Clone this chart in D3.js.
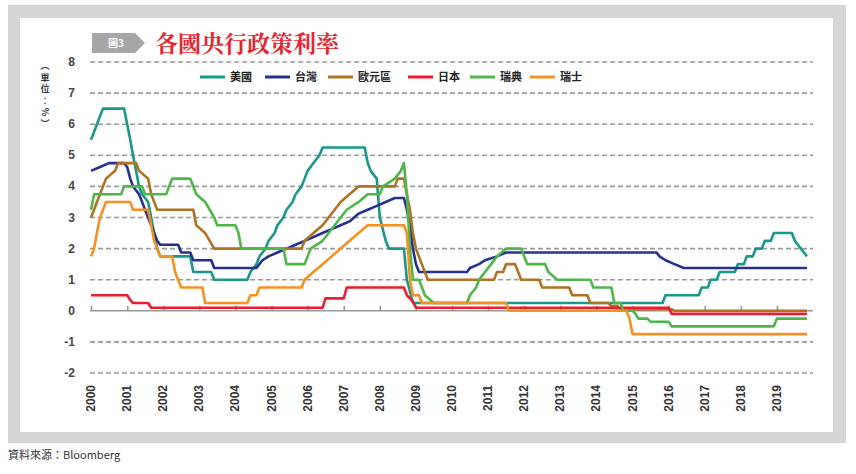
<!DOCTYPE html>
<html>
<head>
<meta charset="utf-8">
<script src="https://cdn.jsdelivr.net/npm/d3@7"></script>
<style>
  body { margin: 0; background: #fff; }
  svg { display: block; font-family: "Noto Sans CJK TC", "Liberation Sans", sans-serif; }
</style>
</head>
<body>
<div id="chart"></div>
<script>
// size of the page and plot area
var W = 856, H = 474;
var margin = {top: 62, right: 43, bottom: 103, left: 91},
    width = W - margin.left - margin.right,
    height = H - margin.top - margin.bottom;

// data: [month, rate] change points
var usRate = [
  ["2000-01",5.5],["2000-02",5.75],["2000-03",6.0],["2000-05",6.5],["2000-12",6.5],
  ["2001-01",6.0],["2001-02",5.5],["2001-03",5.0],["2001-04",4.5],["2001-05",4.0],
  ["2001-06",3.75],["2001-08",3.5],["2001-09",3.0],["2001-10",2.5],["2001-11",2.0],
  ["2001-12",1.75],["2002-10",1.75],["2002-11",1.25],["2003-05",1.25],["2003-06",1.0],
  ["2004-05",1.0],["2004-06",1.25],["2004-08",1.5],["2004-09",1.75],["2004-11",2.0],
  ["2004-12",2.25],["2005-02",2.5],["2005-03",2.75],["2005-05",3.0],["2005-06",3.25],
  ["2005-08",3.5],["2005-09",3.75],["2005-11",4.0],["2005-12",4.25],["2006-01",4.5],
  ["2006-03",4.75],["2006-05",5.0],["2006-06",5.25],["2007-08",5.25],["2007-09",4.75],
  ["2007-10",4.5],["2007-12",4.25],["2008-01",3.0],["2008-03",2.25],["2008-04",2.0],
  ["2008-09",2.0],["2008-10",1.0],["2008-12",0.25],["2015-11",0.25],["2015-12",0.5],
  ["2016-11",0.5],["2016-12",0.75],["2017-02",0.75],["2017-03",1.0],["2017-05",1.0],
  ["2017-06",1.25],["2017-11",1.25],["2017-12",1.5],["2018-02",1.5],["2018-03",1.75],
  ["2018-05",1.75],["2018-06",2.0],["2018-08",2.0],["2018-09",2.25],["2018-11",2.25],
  ["2018-12",2.5],["2019-06",2.5],["2019-07",2.25],["2019-09",2.0],["2019-11",1.75]
];
var twRate = [
  ["2000-01",4.5],["2000-04",4.625],["2000-07",4.75],["2000-12",4.75],["2001-01",4.625],
  ["2001-02",4.25],["2001-03",4.0],["2001-05",3.75],["2001-06",3.5],["2001-07",3.25],
  ["2001-09",2.75],["2001-10",2.5],["2001-11",2.25],["2001-12",2.125],["2002-06",2.125],
  ["2002-07",1.875],["2002-10",1.875],["2002-11",1.625],["2003-05",1.625],["2003-06",1.375],
  ["2004-08",1.375],["2004-10",1.625],["2004-12",1.75],["2005-03",1.875],["2005-06",2.0],
  ["2005-09",2.125],["2005-12",2.25],["2006-03",2.375],["2006-06",2.5],["2006-09",2.625],
  ["2006-12",2.75],["2007-03",2.875],["2007-06",3.125],["2007-09",3.25],["2007-12",3.375],
  ["2008-03",3.5],["2008-06",3.625],["2008-09",3.625],["2008-10",3.25],["2008-11",2.75],
  ["2008-12",2.0],["2009-01",1.5],["2009-02",1.25],["2010-06",1.25],["2010-07",1.375],
  ["2010-10",1.5],["2010-12",1.625],["2011-04",1.75],["2011-07",1.875],["2015-09",1.875],
  ["2015-10",1.75],["2015-12",1.625],["2016-03",1.5],["2016-06",1.375],["2019-11",1.375]
];
var euRate = [
  ["2000-01",3.0],["2000-02",3.25],["2000-03",3.5],["2000-04",3.75],["2000-06",4.25],
  ["2000-09",4.5],["2000-10",4.75],["2001-04",4.75],["2001-05",4.5],["2001-08",4.25],
  ["2001-09",3.75],["2001-11",3.25],["2002-11",3.25],["2002-12",2.75],["2003-03",2.5],
  ["2003-06",2.0],["2005-11",2.0],["2005-12",2.25],["2006-03",2.5],["2006-06",2.75],
  ["2006-08",3.0],["2006-10",3.25],["2006-12",3.5],["2007-03",3.75],["2007-06",4.0],
  ["2008-06",4.0],["2008-07",4.25],["2008-09",4.25],["2008-10",3.75],["2008-11",3.25],
  ["2008-12",2.5],["2009-01",2.0],["2009-03",1.5],["2009-04",1.25],["2009-05",1.0],
  ["2011-03",1.0],["2011-04",1.25],["2011-06",1.25],["2011-07",1.5],["2011-10",1.5],
  ["2011-11",1.25],["2011-12",1.0],["2012-06",1.0],["2012-07",0.75],["2013-04",0.75],
  ["2013-05",0.5],["2013-10",0.5],["2013-11",0.25],["2014-05",0.25],["2014-06",0.15],
  ["2014-08",0.15],["2014-09",0.05],["2016-02",0.05],["2016-03",0.0],["2019-11",0.0]
];
var jpRate = [
  ["2000-01",0.5],["2001-01",0.5],["2001-02",0.35],["2001-03",0.25],["2001-08",0.25],
  ["2001-09",0.1],["2006-06",0.1],["2006-07",0.4],["2007-01",0.4],["2007-02",0.75],
  ["2008-09",0.75],["2008-10",0.5],["2008-12",0.3],["2009-01",0.1],["2016-01",0.1],
  ["2016-02",-0.1],["2019-11",-0.1]
];
var seRate = [
  ["2000-01",3.25],["2000-02",3.75],["2000-11",3.75],["2000-12",4.0],["2001-06",4.0],
  ["2001-07",3.75],["2002-02",3.75],["2002-03",4.0],["2002-04",4.25],["2002-10",4.25],
  ["2002-11",4.0],["2002-12",3.75],["2003-03",3.5],["2003-06",3.0],["2003-07",2.75],
  ["2004-01",2.75],["2004-02",2.5],["2004-03",2.0],["2005-05",2.0],["2005-06",1.5],
  ["2005-12",1.5],["2006-01",1.75],["2006-02",2.0],["2006-06",2.25],["2006-08",2.5],
  ["2006-10",2.75],["2006-12",3.0],["2007-02",3.25],["2007-06",3.5],["2007-09",3.75],
  ["2008-01",3.75],["2008-02",4.0],["2008-06",4.25],["2008-08",4.5],["2008-09",4.75],
  ["2008-10",3.75],["2008-11",2.0],["2008-12",1.0],["2009-02",1.0],["2009-04",0.5],
  ["2009-07",0.25],["2010-06",0.25],["2010-07",0.5],["2010-09",0.75],["2010-10",1.0],
  ["2010-12",1.25],["2011-02",1.5],["2011-04",1.75],["2011-07",2.0],["2011-12",2.0],
  ["2012-01",1.75],["2012-02",1.5],["2012-08",1.5],["2012-09",1.25],["2012-12",1.0],
  ["2013-11",1.0],["2013-12",0.75],["2014-06",0.75],["2014-07",0.25],["2014-09",0.25],
  ["2014-10",0.0],["2015-01",0.0],["2015-02",-0.1],["2015-03",-0.25],["2015-06",-0.25],
  ["2015-07",-0.35],["2016-01",-0.35],["2016-02",-0.5],["2018-12",-0.5],["2019-01",-0.25],
  ["2019-11",-0.25]
];
var chRate = [
  ["2000-01",1.75],["2000-02",2.0],["2000-03",2.5],["2000-04",3.0],["2000-06",3.5],
  ["2001-02",3.5],["2001-03",3.25],["2001-08",3.25],["2001-09",2.75],["2001-10",2.25],
  ["2001-12",1.75],["2002-04",1.75],["2002-05",1.25],["2002-07",0.75],["2003-02",0.75],
  ["2003-03",0.25],["2004-05",0.25],["2004-06",0.5],["2004-08",0.5],["2004-09",0.75],
  ["2005-11",0.75],["2005-12",1.0],["2006-03",1.25],["2006-06",1.5],["2006-09",1.75],
  ["2006-12",2.0],["2007-03",2.25],["2007-06",2.5],["2007-09",2.75],["2008-09",2.75],
  ["2008-10",2.5],["2008-11",1.0],["2008-12",0.5],["2009-02",0.5],["2009-03",0.25],
  ["2011-07",0.25],["2011-08",0.0],["2014-11",0.0],["2014-12",-0.25],["2015-01",-0.75],
  ["2019-11",-0.75]
];

var seriesNames = ["美國", "台灣", "歐元區", "日本", "瑞典", "瑞士"];
var seriesData = [usRate, twRate, euRate, jpRate, seRate, chRate];
var colors = ["#17998a", "#28308f", "#b0731d", "#ec1c2e", "#4bb848", "#f7901e"];

var yearLabels = ["2000","2001","2002","2003","2004","2005","2006","2007","2008","2009",
                  "2010","2011","2012","2013","2014","2015","2016","2017","2018","2019"];
var yTicks = [8, 7, 6, 5, 4, 3, 2, 1, 0, -1, -2];
// unit label, one glyph per row (vertical forms for brackets and colon)
var unitChars = ["︵", "單", "位", "︰", "%", "︶"];

var parseMonth = d3.timeParse("%Y-%m");
var parseYear = d3.timeParse("%Y");

var svg = d3.select("#chart").append("svg")
    .attr("width", W)
    .attr("height", H);

// gray frame
svg.append("rect").attr("x", 8).attr("y", 5).attr("width", 838).attr("height", 438)
    .attr("fill", "#d6d6d6");
svg.append("rect").attr("x", 20).attr("y", 18).attr("width", 813).attr("height", 414)
    .attr("fill", "#fff");

// figure tag + title
svg.append("path")
    .attr("d", "M92,33 L135,33 L145,43 L135,53 L92,53 Z")
    .attr("fill", "#a6a6a6");
svg.append("text").attr("x", 116).attr("y", 47)
    .attr("text-anchor", "middle")
    .attr("fill", "#fff").attr("font-size", 10).attr("font-weight", "bold")
    .text("圖3");
svg.append("text").attr("x", 155).attr("y", 52)
    .attr("fill", "#e8242f").attr("font-size", 23).attr("font-weight", "bold")
    .attr("font-family", "'Noto Serif CJK TC', 'Noto Sans CJK TC', serif")
    .text("各國央行政策利率");

// unit label, vertical
svg.selectAll(".unit")
    .data(unitChars)
    .enter().append("text")
    .attr("class", "unit")
    .attr("x", 45)
    .attr("y", function(d, i) { return 69 + i * 11.5; })
    .attr("text-anchor", "middle")
    .attr("fill", "#333")
    .attr("font-size", 9)
    .attr("font-weight", "bold")
    .attr("transform", function(d, i) {
        return d === "%" ? "rotate(90,45," + (66 + i * 11.5) + ")" : null;
    })
    .text(function(d) { return d; });

// source
svg.append("text").attr("x", 8).attr("y", 459)
    .attr("fill", "#333").attr("font-size", 11)
    .text("資料來源：Bloomberg");

var g = svg.append("g")
    .attr("transform", "translate(" + margin.left + "," + margin.top + ")");

var x = d3.scaleTime()
    .domain([parseYear("2000"), parseYear("2020")])
    .range([0, 722]);
var y = d3.scaleLinear()
    .domain([-2, 8])
    .range([311, 0]);

// dashed gridlines
g.selectAll(".grid")
    .data(yTicks.filter(function(d) { return d !== 0; }))
    .enter().append("line")
    .attr("class", "grid")
    .attr("x1", -1).attr("x2", 722)
    .attr("y1", function(d) { return y(d); })
    .attr("y2", function(d) { return y(d); })
    .attr("stroke", "#9a9a9a")
    .attr("stroke-width", 1.6)
    .attr("stroke-dasharray", "5,3");

// y labels
g.selectAll(".ylab")
    .data(yTicks)
    .enter().append("text")
    .attr("class", "ylab")
    .attr("x", -16)
    .attr("y", function(d) { return y(d) + 4; })
    .attr("text-anchor", "end")
    .attr("fill", "#444")
    .attr("font-size", 12)
    .attr("font-weight", "bold")
    .attr("font-family", "'Liberation Sans', sans-serif")
    .text(function(d) { return d; });

// x axis on the zero line, ticks pointing up
var xAxis = d3.axisTop(x)
    .tickValues(yearLabels.map(function(d) { return parseYear(d); }))
    .tickSize(5)
    .tickSizeOuter(0)
    .tickFormat("");
var ax = g.append("g")
    .attr("transform", "translate(0," + y(0) + ")")
    .call(xAxis);
ax.select(".domain").attr("stroke", "#9a9a9a").attr("stroke-width", 1.6)
    .attr("d", "M-1,0H722");
ax.selectAll(".tick line").attr("stroke", "#9a9a9a").attr("stroke-width", 1.6);

// year labels, rotated
g.selectAll(".xlab")
    .data(yearLabels)
    .enter().append("text")
    .attr("class", "xlab")
    .attr("transform", function(d) {
        return "translate(" + (x(parseYear(d)) + 4) + "," + (385 - margin.top) + ") rotate(-90)";
    })
    .attr("text-anchor", "end")
    .attr("fill", "#333")
    .attr("font-size", 12)
    .attr("font-weight", "bold")
    .attr("font-family", "'Liberation Sans', sans-serif")
    .text(function(d) { return d; });

// lines
var line = d3.line()
    .x(function(d) { return x(parseMonth(d[0])); })
    .y(function(d) { return y(d[1]); });

g.selectAll(".rate")
    .data(seriesData)
    .enter().append("path")
    .attr("class", "rate")
    .attr("fill", "none")
    .attr("stroke", function(d, i) { return colors[i]; })
    .attr("stroke-width", 2.6)
    .attr("stroke-linejoin", "round")
    .attr("d", line);

// legend
var legendX = [200, 265, 328, 408, 470, 530];
var lg = svg.selectAll(".legend")
    .data(seriesNames)
    .enter().append("g")
    .attr("class", "legend")
    .attr("transform", function(d, i) { return "translate(" + legendX[i] + ",77)"; });
lg.append("line")
    .attr("x1", 0).attr("x2", 25)
    .attr("stroke", function(d, i) { return colors[i]; })
    .attr("stroke-width", 3);
lg.append("text")
    .attr("x", 30).attr("y", 4)
    .attr("fill", "#222")
    .attr("font-size", 11)
    .attr("font-weight", "bold")
    .text(function(d) { return d; });
</script>
</body>
</html>
